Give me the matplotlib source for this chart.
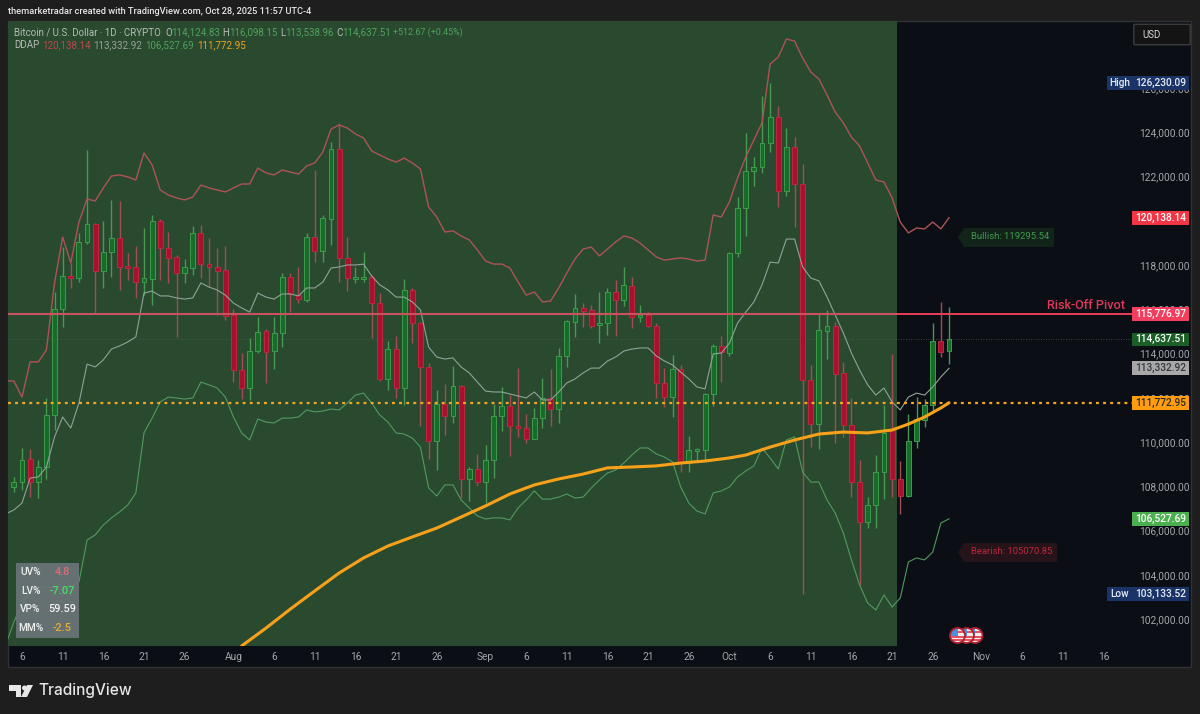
import matplotlib
matplotlib.use('Agg')
import matplotlib.pyplot as plt
from matplotlib.patches import Rectangle, Polygon, Ellipse, FancyBboxPatch
from matplotlib.ticker import FuncFormatter
from matplotlib.transforms import blended_transform_factory

plt.rcParams['font.family'] = ['Roboto', 'DejaVu Sans']

# days counted from Jul 1 2025
first_day = 4
opens = [107970,108190,109230,108190,108870,111220,116010,117500,117410,119040,
    119850,117730,118590,119220,117950,117910,117230,117370,119990,118770,
    118360,117640,117860,119450,118040,117910,117770,115740,113250,112440,
    114110,115020,114110,114930,117460,116640,116420,119260,118630,120080,
    123240,118320,117370,117370,117460,116280,112850,114200,112440,116870,
    115380,113390,110050,111720,111180,112530,108330,108780,108190,109190,
    111180,111630,110720,110630,110140,111080,111990,111490,113890,115420,
    116060,115970,115290,115380,116780,116420,117050,115650,115740,115240,
    112670,112030,113300,109050,109590,109640,112170,114340,114020,118540,
    120570,122250,122430,123510,124690,121340,123330,121660,112800,110810,
    115020,115240,113120,110770,108190,106380,107150,108640,110540,108330,
    107560,110050,110990,111670,114560,114124.83]
highs = [108420,109730,109680,109190,111990,116780,118810,118090,119450,123200,
    119900,119990,120940,120890,118540,118860,119670,120260,120080,119490,
    118450,118270,119760,119810,119220,118770,118860,116010,114020,114700,
    115650,115110,115650,117640,117640,117910,119450,122290,120260,123560,
    124420,119260,117910,118590,117550,116730,114560,114790,117370,116960,
    115420,113570,112350,112620,113430,112580,108870,109460,109860,111720,
    112490,112120,113340,111270,111540,112890,113300,114250,115510,116690,
    116280,116190,116780,116960,117320,117910,117460,116190,115870,115380,
    113340,113930,113480,110270,109730,112210,114430,114790,118590,121070,
    123960,122880,125640,126230.09,125180,124190,123780,122560,113480,115830,
    115970,115420,113620,111990,109190,107510,109410,111670,113980,109140,
    111270,112030,111940,115380,116330,116098.15]
lows = [107740,107830,107510,107470,108330,110540,115200,116960,117230,118950,
    115780,116960,117460,116870,117320,116510,116640,116190,117320,117190,
    114750,117190,117550,117410,117000,115740,115510,112710,111940,111900,
    114020,112670,113300,114290,115870,116280,116330,118130,118130,118900,
    117230,116820,117190,117230,114700,112760,112350,111990,111670,114470,
    110720,109230,108730,110320,110860,107470,107330,108010,107240,108370,
    110500,109370,110230,109950,110140,110630,110720,110860,113390,114750,
    115200,115150,114470,114840,114790,116150,115150,115420,115200,111990,
    111580,111130,108640,108640,109140,109190,111630,112710,113890,118360,
    119310,121570,122160,123110,120620,121120,119720,103133.52,109770,109680,
    113750,109950,110230,107510,103540,106110,106110,107420,107510,106750,
    107510,109730,110680,111360,113840,113538.96]
closes = [108190,109190,108190,108870,111220,116010,117500,117410,119040,119850,
    117730,118590,119220,117910,117860,117230,117410,119990,118770,118320,
    117640,117910,119450,118040,117910,117730,115690,113250,112440,114110,
    114970,114070,114930,117460,116690,116460,119260,118630,120120,123240,
    118320,117410,117460,117460,116280,112850,114200,112440,116870,115380,
    113390,110050,111720,111180,112530,108330,108780,108190,109190,111180,
    111630,110720,110630,110140,111080,111990,111490,113890,115470,116060,
    115920,115240,115380,116780,116420,117100,115650,115740,115240,112670,
    112030,113300,109050,109640,109680,112170,114340,114070,118540,120570,
    122250,122430,123510,124690,121340,123330,121660,112800,110810,115060,
    115240,113070,110770,108190,106380,107150,108640,110410,108330,107560,
    110050,111040,111670,114560,114070,114637.51]

# DDAP bands, one value per day starting at day 3
band_start = 3
upper = [112760,112760,112030,113620,113620,114160,117190,119260,118090,119940,
    120980,120890,121480,122020,122070,121980,121840,123060,122520,121390,
    121160,121030,120940,121070,121610,121480,121390,121300,121480,121660,
    121660,122380,122160,122070,122290,122200,122110,122470,122610,123110,
    124140,124330,124190,123920,123740,123150,122970,122790,122650,122830,
    122610,122340,120620,120170,119490,119540,119310,119130,118680,118180,
    118040,118040,117860,117230,116640,116780,116330,116370,116960,117640,
    118270,118720,118810,118410,118720,119040,119310,119220,118990,118680,
    118360,118220,118270,118320,118270,118180,118220,120260,120170,120850,
    121930,122880,123650,124420,127080,127400,128210,128120,127350,126720,
    126400,125680,124910,124420,123780,123380,122610,121840,121750,121030,
    119940,119450,119670,119630,119940,119630,120138.14]
middle = [106750,106930,107240,108370,108420,108870,110230,111130,110630,111760,
    113520,113390,113710,114200,114340,114520,114750,116730,116820,116600,
    116600,116510,116460,116510,117190,117000,116870,116640,116280,116060,
    115870,116730,116550,116460,116690,116690,116600,116960,116960,117230,
    117860,117910,118000,118000,118040,117500,117100,116870,116550,116550,
    116330,115970,114290,113840,113750,113800,113390,113120,112710,112300,
    112260,112260,112170,112080,111990,112260,111900,111900,112260,112670,
    112850,113120,113340,113340,113660,113840,114110,114200,114250,114250,
    113890,113660,113480,113160,112850,112490,112400,113980,114020,114470,
    115380,115870,116330,117100,118130,118090,119170,119170,117910,117410,
    117280,116550,115740,114930,114020,113250,112580,112120,112440,111810,
    111450,112030,112210,112120,112490,112940,113332.92]
lower = [100830,101870,102680,103220,103400,103450,103400,103310,103490,103670,
    105570,105800,106250,106570,106840,107150,107700,110410,111080,111810,
    112030,111990,111940,111990,112710,112580,112440,112030,111130,110410,
    110090,111040,110900,110860,111080,111080,111130,111450,111360,111400,
    111490,111450,111760,112120,112210,111760,111220,110900,110410,110360,
    110180,109770,107920,107560,108060,108060,107380,107020,106660,106520,
    106570,106570,106480,107020,107380,107790,107420,107420,107510,107650,
    107470,107510,107920,108280,108600,108730,109050,109410,109730,109730,
    109460,109320,109100,107970,107240,106880,106750,107700,107790,107970,
    108420,108690,108920,109730,109280,108780,110090,110230,108640,108190,
    108190,107380,106790,105890,104670,103540,102720,102410,103090,102540,
    102950,104580,104760,104670,105030,106340,106527.69]

orange_days = [32,35,38,41,44,47,50,53,56,59,62,65,68,71,74,77,80,83,86,89,92,94,97,100,103,106,109,112,114,116,118,119]
orange_vals = [100780,101590,102450,103270,104080,104760,105300,105710,106110,106610,107110,107650,108060,108330,108550,108830,
    108870,108920,109050,109140,109280,109410,109770,110090,110360,110450,110410,110540,110810,111130,111540,111772.95]

pivot_price = 115776.97
ddap_price = 111772.95
last_price = 114637.51

# 120,000 sits fully behind the red tag in the reference
price_ticks = [102000,104000,106000,108000,110000,112000,114000,116000,118000,122000,124000,126000]
date_ticks = [5,10,15,20,25,31,36,41,46,51,56,62,67,72,77,82,87,92,97,102,107,112,117,123,128,133,138]
date_labels = ['6','11','16','21','26','Aug','6','11','16','21','26','Sep','6','11','16','21','26','Oct','6','11','16','21','26','Nov','6','11','16']

BG = '#1e1e1e'
PANE = '#0b0e14'
SHADE = '#2a4a30'
GREY_TXT = '#a3a6ab'


def fx(x):
    return x / 1200


def fy(y):
    return 1 - y / 714


fig = plt.figure(figsize=(12, 7.14), dpi=100, facecolor=BG)
fig.patches.append(Rectangle((fx(8), fy(667)), 1183 / 1200, 646 / 714, transform=fig.transFigure,
                             facecolor=PANE, edgecolor='#303236', lw=1, zorder=-1))

ax = fig.add_axes([fx(8), fy(646), 1124 / 1200, 625 / 714])
ax.patch.set_alpha(0)
ax.set_xlim(3.278, 141.5)
ax.set_ylim(100781, 129025)
for s in ax.spines.values():
    s.set_visible(False)

ax.axvspan(3.278, 112.63, color=SHADE, lw=0, zorder=0)

# candles
days = [first_day + i for i in range(len(opens))]
up = [c >= o for o, c in zip(opens, closes)]
wick_colors = ['#469a52' if u else '#a04e54' for u in up]
ax.vlines(days, lows, highs, colors=wick_colors, lw=1.0, zorder=2)
ax.bar(days, [abs(c - o) for o, c in zip(opens, closes)], bottom=[min(o, c) for o, c in zip(opens, closes)],
       width=0.6, color=['#176d28' if u else '#a8112d' for u in up],
       edgecolor=['#3f9a4e' if u else '#bf2640' for u in up], lw=0.7, zorder=2.5)

band_days = [band_start + i for i in range(len(upper))]
ax.plot(band_days, upper, color='#ad5356', lw=1.0, zorder=3)
ax.plot(band_days, middle, color='#8fa398', lw=0.8, zorder=3)
ax.plot(band_days, lower, color='#52995f', lw=0.8, zorder=3)

ax.hlines(last_price, 3.278, 141.5, colors='#4c5a52', linestyles=(0, (1, 2)), lw=0.6, zorder=1)
ax.hlines(pivot_price, 3.278, 112.63, colors='#c9525f', lw=1.5, zorder=4)
ax.hlines(pivot_price, 112.63, 141.5, colors='#ea3f58', lw=1.4, zorder=4)
ax.hlines(ddap_price, 3.278, 141.5, colors='#f5a623', linestyles=(0, (1.3, 1.9)), lw=1.6, zorder=4)
ax.plot(orange_days, orange_vals, color='#f7a11a', lw=2.2, solid_capstyle='round', zorder=5)

# axes
ax.yaxis.tick_right()
ax.set_yticks(price_ticks)
ax.yaxis.set_major_formatter(FuncFormatter(lambda v, _: f'{v:,.2f}'))
ax.tick_params(axis='y', length=0, pad=5, labelsize=7.3, labelcolor=GREY_TXT)
ax.set_xticks(date_ticks)
ax.set_xticklabels(date_labels)
ax.tick_params(axis='x', length=0, pad=4, labelsize=7.3, labelcolor=GREY_TXT)

# price tags on the right scale
tag_tr = blended_transform_factory(fig.transFigure, ax.transData)
TAG_H = 620


def price_tag(price, text, face, color='white', weight='medium'):
    ax.add_patch(Rectangle((fx(1132), price - TAG_H / 2), 57 / 1200, TAG_H, transform=tag_tr, facecolor=face,
                           lw=0, clip_on=False, zorder=10))
    ax.text(fx(1161), price, text, transform=tag_tr, ha='center', va='center', color=color, fontsize=7.3,
            fontweight=weight, clip_on=False, zorder=11)


def side_label(price, word, value):
    ax.add_patch(Rectangle((fx(1107), price - TAG_H / 2), 25.5 / 1200, TAG_H, transform=tag_tr, facecolor='#1a3468',
                           lw=0, clip_on=False, zorder=10))
    ax.text(fx(1119.5), price, word, transform=tag_tr, ha='center', va='center', color='#e8ecf5', fontsize=7.2,
            fontweight='medium', clip_on=False, zorder=11)
    price_tag(price, value, '#1a3468', '#e8ecf5')


side_label(126230.09, 'High', '126,230.09')
side_label(103133.52, 'Low', '103,133.52')
price_tag(120138.14, '120,138.14', '#f23645')
price_tag(pivot_price, '115,776.97', '#f23f5f')
price_tag(last_price, '114,637.51', '#1b5e28')
price_tag(113332.92, '113,332.92', '#a8a8a8', '#35383c')
price_tag(ddap_price, '111,772.95', '#ff9c10', '#2b2b2b')
price_tag(106527.69, '106,527.69', '#4caf50')

fig.patches.append(FancyBboxPatch((fx(1135), fy(44)), 54 / 1200, 19 / 714, boxstyle='round,pad=0.001',
                                  transform=fig.transFigure, facecolor='#141414', edgecolor='#3a3c40', lw=1))
fig.text(fx(1142), fy(34.5), 'USD', color='#d8d8d8', fontsize=7, va='center')

ax.text(fx(1047), pivot_price + 400, 'Risk-Off Pivot', transform=tag_tr, color='#e0385a', fontsize=9.1,
        fontweight='medium', va='center', clip_on=False, zorder=9)

# header and legend
fig.text(fx(8), fy(11.5), 'themarketradar created with TradingView.com, Oct 28, 2025 11:57 UTC-4', color='#e6e6e6',
         fontsize=6.7, fontweight='medium', va='center')
LEG_UP = '#4ea35c'
fig.text(fx(14), fy(32.5), 'Bitcoin / U.S. Dollar · 1D · CRYPTO', color='#b4bcb6', fontsize=7, va='center')
for x, s, c in [(165, 'O', '#b4bcb6'), (171.5, '114,124.83', LEG_UP), (222.5, 'H', '#b4bcb6'), (229, '116,098.15', LEG_UP),
                (280, 'L', '#b4bcb6'), (285.5, '113,538.96', LEG_UP), (336, 'C', '#b4bcb6'), (342.5, '114,637.51', LEG_UP)]:
    fig.text(fx(x), fy(32.5), s, color=c, fontsize=7, va='center')
fig.text(fx(393), fy(32.5), '+512.67 (+0.45%)', color=LEG_UP, fontsize=6.4, va='center')
for x, s, c in [(14, 'DDAP', '#b4bcb6'), (42, '120,138.14', '#c2464c'), (93, '113,332.92', '#97a29b'),
                (145, '106,527.69', LEG_UP), (197, '111,772.95', '#eea21d')]:
    fig.text(fx(x), fy(45.5), s, color=c, fontsize=7, va='center')

# stats table, translucent over the chart
ax.add_patch(Rectangle((fx(16), fy(638)), 63 / 1200, 75 / 714, transform=fig.transFigure, facecolor='#6c757a',
                       alpha=0.9, lw=0, zorder=8))
for y, name, val, col in [(572, 'UV%', '4.8', '#e06a74'), (591, 'LV%', '-7.07', '#45e062'),
                          (609.5, 'VP%', '59.59', '#f4f4f4'), (628, 'MM%', '-2.5', '#eaa935')]:
    fig.text(fx(30.5), fy(y), name, color='#f0f0f0', fontsize=7.3, fontweight='medium', ha='center', va='center')
    fig.text(fx(62), fy(y), val, color=col, fontsize=7.8, fontweight='medium', ha='center', va='center')

# Bullish and Bearish callouts
for pts, face, tx, ty, s, col in [
    ([(958, 237.5), (964, 228), (1054, 228), (1054, 247), (964, 247)], '#12241a', 971, 236.5, 'Bullish: 119295.54', '#3f9a4e'),
    ([(958, 552.5), (964, 543), (1057, 543), (1057, 562), (964, 562)], '#27141a', 971, 552, 'Bearish: 105070.85', '#b8283c'),
]:
    fig.patches.append(Polygon([(fx(a), fy(b)) for a, b in pts], transform=fig.transFigure, facecolor=face, lw=0))
    fig.text(fx(tx), fy(ty), s, color=col, fontsize=6.8, va='center')

# event flags at the bottom, drawn back to front
z = 20
for cx in [975, 966.5, 957.5]:
    cy = 635.5
    disc = Ellipse((fx(cx), fy(cy)), 15 / 1200, 15 / 714, transform=fig.transFigure, facecolor='#f3ecec',
                   edgecolor='none', zorder=z)
    fig.patches.append(disc)
    for sy in [632, 636.5, 640]:
        bar = Rectangle((fx(cx - 7), fy(sy + 1)), 14 / 1200, 1.8 / 714, transform=fig.transFigure,
                        facecolor='#e0535f', lw=0, zorder=z + 0.1)
        fig.patches.append(bar)
        bar.set_clip_path(disc)
    blue = Rectangle((fx(cx - 7), fy(635.5)), 7 / 1200, 7 / 714, transform=fig.transFigure, facecolor='#4a8fdc',
                     lw=0, zorder=z + 0.2)
    fig.patches.append(blue)
    blue.set_clip_path(disc)
    ring = Ellipse((fx(cx), fy(cy)), 15 / 1200, 15 / 714, transform=fig.transFigure, facecolor='none',
                   edgecolor='#b21f30', lw=1.3, zorder=z + 0.3)
    fig.patches.append(ring)
    z += 1

# TradingView logo
logo = '#e6e6e6'
for pts in [[(9, 685), (21, 685), (21, 697), (15.5, 697), (15.5, 691), (9, 691)],
            [(27, 685), (33, 685), (27, 697), (21, 697)]]:
    fig.patches.append(Polygon([(fx(a), fy(b)) for a, b in pts], transform=fig.transFigure, facecolor=logo, lw=0))
fig.patches.append(Ellipse((fx(24.5), fy(688)), 5 / 1200, 5 / 714, transform=fig.transFigure, facecolor=logo, lw=0))
fig.text(fx(38), fy(691), 'TradingView', color=logo, fontsize=11.1, fontweight='medium', va='center', family='Inter')

fig.savefig('out.png', dpi=100, facecolor=BG)
